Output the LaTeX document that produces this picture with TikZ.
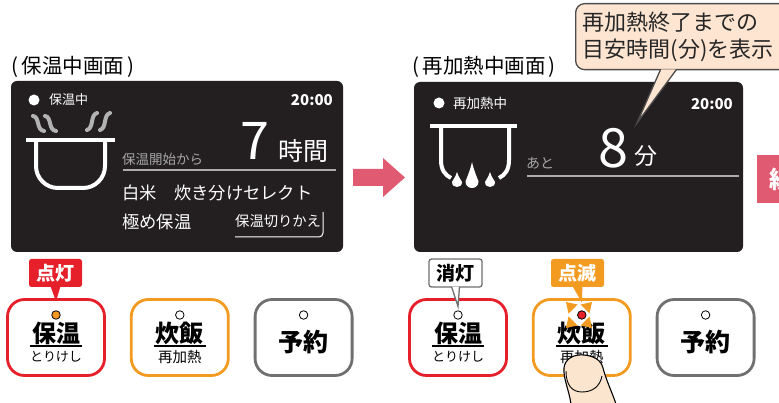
\documentclass[tikz,border=0pt]{standalone}
\usepackage{fontspec}
\setmainfont{Noto Sans CJK JP}
\usetikzlibrary{positioning}

\definecolor{panel}{HTML}{231F20}
\definecolor{ledred}{HTML}{E5202A}
\definecolor{ledorange}{HTML}{F39B21}
\definecolor{keygray}{HTML}{707070}
\definecolor{stepPink}{HTML}{E05B72}
\definecolor{balloon}{HTML}{FDE5D1}
\definecolor{skin}{HTML}{FBE5CF}

\newcommand{\fs}[1]{\fontsize{#1}{#1}\selectfont}
% drop: centre x, top y, radius, height
\newcommand{\waterdrop}[4]{%
  \fill[white] (#1,#2) .. controls ({#1+0.3*#3},{#2+0.35*#4}) and ({#1+#3},{#2+#4-1.1*#3}) .. ({#1+#3},{#2+#4-#3})
    .. controls ({#1+#3},{#2+#4+0.33*#3}) and ({#1-#3},{#2+#4+0.33*#3}) .. ({#1-#3},{#2+#4-#3})
    .. controls ({#1-#3},{#2+#4-1.1*#3}) and ({#1-0.3*#3},{#2+0.35*#4}) .. (#1,#2) -- cycle;}

\tikzset{
  screen/.style={fill=panel, rounded corners=6pt},
  lcd/.style={text=white},
  dim/.style={text=gray!70},
  dotrule/.style={gray!65, line width=1.4pt},
  pot/.style={white, line width=4pt},
  steam/.style={gray!60, line width=4pt, line cap=round},
  button/.style={draw, fill=white, line width=2.8pt, rounded corners=17pt, minimum width=97pt, minimum height=76pt},
  led/.style={circle, draw, fill=white, line width=0.8pt, minimum size=8.5pt},
  lamptag/.style={rounded corners=2.5pt, minimum width=53pt, minimum height=28pt, font=\bfseries\fs{19}},
}

\begin{document}
\begin{tikzpicture}[x=1pt, y=-1pt, every node/.style={inner sep=0pt}]
\clip (0,0) rectangle (779,403);
\fill[white] (0,0) rectangle (779,403);

% titles
\node[anchor=west, font=\fs{20.5}] (titleL) at (11,67) {(\,保温中画面\,)};
\node[anchor=west, font=\fs{20.5}] (titleR) at (412,67) {(\,再加熱中画面\,)};

% keep-warm screen
\fill[screen] (11,81) rectangle (343,252);
\fill[white] (34,100) circle (5.5);
\node[lcd, anchor=west, font=\fs{13}] at (49,100) {保温中};
\node[lcd, anchor=east, font=\bfseries\fs{15}] at (333,100) {20:00};
\foreach \sx in {0,12}{
  \draw[steam] (33+\sx,116) .. controls (40+\sx,117) and (36+\sx,130) .. (44+\sx,131);
}
\foreach \sx in {0,13}{
  \draw[steam] (97+\sx,113) .. controls (90+\sx,115) and (94+\sx,128) .. (87+\sx,130);
}
\draw[pot] (26,140) -- (115,140);
\draw[pot, rounded corners=22pt] (36,140) -- (36,188) -- (105,188) -- (105,140);
\node[dim, anchor=west, font=\fs{13.5}] at (122,159) {保温開始から};
\node[lcd, font=\fs{52}] at (255,141) {7};
\node[lcd, font=\fs{25}] at (303,151) {時間};
\draw[dotrule] (123,170) -- (336,170);
\node[lcd, anchor=west, font=\fs{17.3}] at (122,193) {白米　炊き分けセレクト};
\node[lcd, anchor=west, font=\fs{17.3}] at (122,222) {極め保温};
\node[lcd, anchor=west, font=\fs{14.3}] at (235,221) {保温切りかえ};
\draw[white, line width=1pt, rounded corners=4pt] (235,237) -- (323,237) -- (323,212);

% step arrow
\fill[stepPink] (353,169) -- (383,169) -- (383,158) -- (405,177.5) -- (383,197) -- (383,186) -- (353,186) -- cycle;

% reheat screen
\fill[screen] (414,82) rectangle (743,252);
\fill[white] (439,103) circle (5.5);
\node[lcd, anchor=west, font=\fs{13.5}] at (453,103) {再加熱中};
\node[lcd, anchor=east, font=\bfseries\fs{15}] at (733,104) {20:00};
\draw[pot] (430,126) -- (517,126);
\draw[pot] (441,126) -- (441,160) .. controls (441,170) and (445,175) .. (451,178);
\draw[pot] (509,126) -- (509,160) .. controls (509,170) and (505,175) .. (499,178);
\waterdrop{457}{172}{5}{15}
\waterdrop{472}{162}{6.5}{26}
\waterdrop{490}{172}{5}{15}
\node[dim, anchor=west, font=\fs{14}] at (526,163) {あと};
\node[lcd, font=\fs{54}] at (613,148) {8};
\node[lcd, font=\fs{23}] at (646,156) {分};
\draw[dotrule] (527,176) -- (739,176);

% balloon
\coordinate (noteTip) at (637,123);
\node[draw=gray!60!black, fill=balloon, line width=1.3pt, rounded corners=9pt, anchor=north west,
  text width=200pt, inner xsep=7pt, minimum height=66pt, align=left,
  font=\fontsize{22}{27}\selectfont, text=black!85] (note) at (575,3) {再加熱終了までの\\目安時間(分)を表示};
\filldraw[fill=balloon, draw=gray!60!black, line width=1.3pt]
  ([xshift=-22pt,yshift=1pt]note.south) -- (noteTip) -- ([xshift=-6pt,yshift=1pt]note.south);

% next step
\fill[stepPink] (757,155) rectangle (785,203);
\node[text=white, anchor=west, font=\bfseries\fs{24}] at (769,179) {続};

% buttons
\node[button, draw=ledred] (hoL) at (56,337.5) {};
\node[button, draw=ledorange, right=24pt of hoL] (suL) {};
\node[button, draw=keygray, right=24pt of suL] (yoL) {};
\node[button, draw=ledred] (hoR) at (458,337.5) {};
\node[button, draw=ledorange, right=24pt of hoR] (suR) {};
\node[button, draw=keygray, right=24pt of suR] (yoR) {};

\foreach \b in {hoL,hoR}{
  \node[font=\bfseries\fs{24}] at ([yshift=4.5pt]\b.center) {保温};
  \draw[line width=1.6pt] ([xshift=-26pt,yshift=-8.5pt]\b.center) -- ([xshift=26pt,yshift=-8.5pt]\b.center);
  \node[font=\fs{13}] at ([yshift=-19.5pt]\b.center) {とりけし};
}
\foreach \b in {suL,suR}{
  \node[font=\bfseries\fs{24}] at ([yshift=4.5pt]\b.center) {炊飯};
  \draw[line width=1.6pt] ([xshift=-26pt,yshift=-8.5pt]\b.center) -- ([xshift=26pt,yshift=-8.5pt]\b.center);
  \node[font=\fs{14.5}] at ([yshift=-19.5pt]\b.center) {再加熱};
}
\foreach \b in {yoL,yoR}{
  \node[font=\bfseries\fs{25}] at ([yshift=-4.5pt]\b.center) {予約};
}

% lamps
\node[led, fill=ledorange] (ledHoL) at ([yshift=22.5pt]hoL.center) {};
\node[led] (ledSuL) at ([yshift=22.5pt]suL.center) {};
\node[led] (ledYoL) at ([yshift=22.5pt]yoL.center) {};
\node[led] (ledHoR) at ([yshift=22.5pt]hoR.center) {};
\node[led, fill=ledred] (ledSuR) at ([yshift=22.5pt]suR.center) {};
\node[led] (ledYoR) at ([yshift=22.5pt]yoR.center) {};
\foreach \dx/\dy in {1/1,1/-1,-1/1,-1/-1}{
  \fill[ledorange] ({579+13*\dx},{315+13*\dy}) -- ({579+6*\dx+4.5*\dy},{315+6*\dy-4.5*\dx})
    -- ({579+6*\dx-4.5*\dy},{315+6*\dy+4.5*\dx}) -- cycle;
}

% lamp tags
\node[lamptag, fill=ledred, text=white] (tagOn) at (55.5,273) {点灯};
\fill[ledred] ([xshift=-5pt,yshift=1pt]tagOn.south) -- ([yshift=9pt]ledHoL.north) -- ([xshift=5pt,yshift=1pt]tagOn.south);
\node[lamptag, fill=white, draw=keygray, line width=1.3pt, text=black] (tagOff) at (455.5,273) {消灯};
\filldraw[fill=white, draw=keygray, line width=1.3pt]
  ([xshift=-4pt,yshift=1pt]tagOff.south) -- ([yshift=4pt]ledHoR.north) -- ([xshift=4pt,yshift=1pt]tagOff.south);
\node[lamptag, fill=ledorange, text=white] (tagBlink) at (577.5,273) {点滅};
\fill[ledorange] ([xshift=-5pt,yshift=1pt]tagBlink.south) -- ([yshift=8pt]ledSuR.north) -- ([xshift=5pt,yshift=1pt]tagBlink.south);

% finger
\filldraw[fill=skin, draw=black, line width=1.1pt] (571,404) .. controls (569,390) and (563,378) .. (564,368)
  .. controls (565,358) and (575,354) .. (584,355) .. controls (594,356) and (601,360) .. (603,368)
  .. controls (606,380) and (612,392) .. (616,404);
\draw[line width=0.9pt] (566,371) .. controls (566,385) and (572,392) .. (582,392) .. controls (593,392) and (600,386) .. (602,376);
\end{tikzpicture}
\end{document}
